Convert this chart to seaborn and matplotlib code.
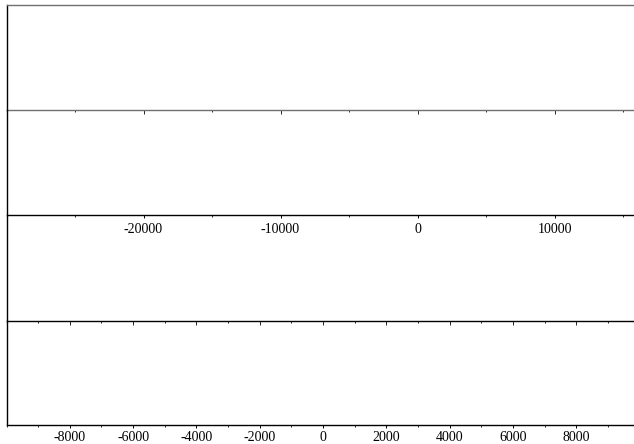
import matplotlib
matplotlib.use("Agg")
import matplotlib.pyplot as plt
import seaborn as sns
from matplotlib.ticker import MultipleLocator, FixedLocator

# ---- data (axis definitions) ----
upper_xlim = [-30000, 15800]
upper_major = [-20000, -10000, 0, 10000]
upper_minor_step = 5000
lower_xlim = [-10000, 9820]
lower_major = [-8000, -6000, -4000, -2000, 0, 2000, 4000, 6000, 8000]
lower_minor_step = 1000

sns.set_theme(style="ticks")
plt.rcParams['font.family'] = ['Liberation Serif', 'DejaVu Serif']
plt.rcParams['font.size'] = 10

W, H = 634, 444
fig = plt.figure(figsize=(W / 100, H / 100), dpi=100)
fig.patch.set_facecolor('white')

left = 6.5 / W
right = 1.0
edges = [5.5, 110.5, 215.5, 321.0, 425.0]  # pixel y of panel borders


def make_ax(i):
    top_px, bot_px = edges[i], edges[i + 1]
    ax = fig.add_axes([left, 1 - bot_px / H, right - left, (bot_px - top_px) / H])
    ax.set_facecolor('none')
    ax.set_yticks([])
    ax.spines['right'].set_visible(False)
    ax.spines['top'].set_visible(i == 0)
    for s in ax.spines.values():
        s.set_linewidth(1.0)
        s.set_color('black')
    return ax


axes = [make_ax(i) for i in range(4)]

for i, ax in enumerate(axes):
    if i < 2:
        ax.set_xlim(*upper_xlim)
        ax.xaxis.set_major_locator(FixedLocator(upper_major))
        ax.xaxis.set_minor_locator(MultipleLocator(upper_minor_step))
    else:
        ax.set_xlim(*lower_xlim)
        ax.xaxis.set_major_locator(FixedLocator(lower_major))
        ax.xaxis.set_minor_locator(MultipleLocator(lower_minor_step))
    labelled = i in (1, 3)
    if labelled:
        ax.tick_params(axis='x', which='major', direction='out', length=2.0,
                       width=0.7, pad=3.5 if i == 1 else 2.6, labelsize=10,
                       colors='black')
        ax.tick_params(axis='x', which='minor', direction='out', length=1.6,
                       width=0.7)
        ax.set_xticklabels([str(v) for v in (upper_major if i == 1 else lower_major)])
    else:
        ax.tick_params(axis='x', which='major', direction='out', length=3.0,
                       width=0.7, labelbottom=False)
        ax.tick_params(axis='x', which='minor', direction='out', length=1.5,
                       width=0.7)

axes[0].spines['top'].set_color('#707070')
axes[0].spines['bottom'].set_color('#707070')

fig.savefig('out.png', dpi=100, facecolor='white')
